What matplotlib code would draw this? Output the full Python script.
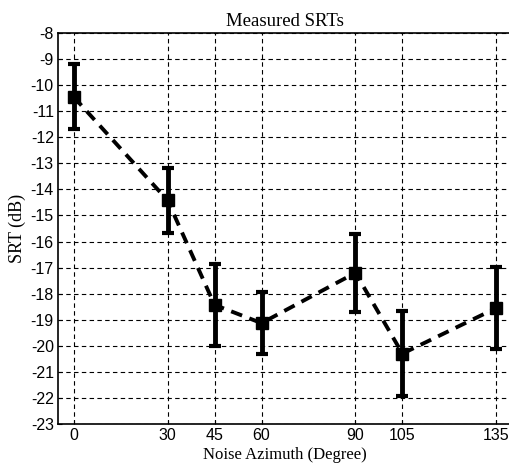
import matplotlib
matplotlib.use("Agg")
import matplotlib.pyplot as plt

azimuth = [0, 30, 45, 60, 90, 105, 135]
srt = [-10.45, -14.42, -18.43, -19.13, -17.2, -20.3, -18.55]
err = [1.25, 1.25, 1.57, 1.2, 1.5, 1.63, 1.57]
yticks = list(range(-23, -7))

fig = plt.figure(figsize=(5.09, 4.68), dpi=100)
ax = fig.add_axes([58/509, 44/468, (512-58)/509, (424-33)/468])

ax.errorbar(azimuth, srt, yerr=err, fmt='s', color='black', ms=9,
            elinewidth=3.5, capsize=4, capthick=3, zorder=3)
ax.plot(azimuth, srt, linestyle=(0, (3, 2)), color='black', lw=2.8, zorder=2)

ax.set_xlim(-5, 140)
ax.set_ylim(-23, -8)
ax.set_xticks(azimuth)
ax.set_yticks(yticks)
ax.set_yticklabels([str(v) for v in yticks])
ax.grid(True, color='black', linestyle=(0, (4, 3)), linewidth=0.8)
ax.tick_params(direction='in', length=3, labelsize=11.5, pad=3)
for lab in ax.get_xticklabels() + ax.get_yticklabels():
    lab.set_fontfamily('Liberation Sans')
for s in ax.spines.values():
    s.set_linewidth(1.2)

ax.set_title('Measured SRTs', fontfamily='Liberation Serif', fontsize=13.5, pad=5)
ax.set_xlabel('Noise Azimuth (Degree)', fontfamily='Liberation Serif', fontsize=12, labelpad=3)
ax.set_ylabel('SRT (dB)', fontfamily='Liberation Serif', fontsize=13, labelpad=3)

fig.savefig('out.png', dpi=100)
